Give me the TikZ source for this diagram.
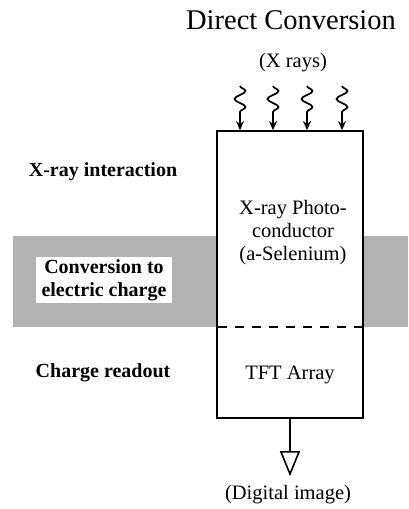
\documentclass[tikz,border=0pt]{standalone}
\usepackage{fontspec}
\setmainfont{Liberation Serif}
\usetikzlibrary{arrows.meta,decorations.pathmorphing}

\begin{document}
\begin{tikzpicture}[
    x=1pt,y=-1pt,
    stage/.style={font=\bfseries\fontsize{20}{23}\selectfont,align=center},
    layer/.style={font=\fontsize{20.5}{23}\selectfont,align=center},
    ray/.style={-{Stealth[length=9pt,width=8pt]},line width=1.7pt,decorate,
      decoration={snake,amplitude=5.5pt,segment length=16pt,post length=12pt}},
    readout/.style={-{Triangle[open,length=25pt,width=20pt,line width=1.6pt]},line width=1.6pt}
  ]
    \useasboundingbox (0,0) rectangle (408,509);

    % grey band for the conversion stage
    \node[fill=black!30,inner sep=0pt,minimum width=395pt,minimum height=91pt,
      anchor=north west] (band) at (13,236) {};
    \node[draw,line width=1.8pt,fill=white,inner sep=0pt,
      minimum width=146pt,minimum height=287pt] (detector) at (290,274.5) {};
    \draw[line width=2pt,dash pattern=on 9pt off 8pt]
      (band.south -| detector.west) ++(2,0) -- (band.south -| detector.east);

    \node[font=\fontsize{28.5}{32}\selectfont] (title) at (291,20) {Direct Conversion};
    \node[layer] (xrays) at (293,63) {(X rays)};
    \node[layer] (photo) at (293,233) {X-ray Photo-\\conductor\\(a-Selenium)};
    \node[layer] (tft) at (290,375) {TFT Array};
    \node[layer] (digital) at (288,495) {(Digital image)};

    \node[stage] (interaction) at (103,172) {X-ray interaction};
    \node[stage,fill=white,inner xsep=6pt,inner ysep=2pt] (conversion) at (104,280)
      {Conversion to\\electric charge};
    \node[stage] (charge) at (103,373) {Charge readout};

    \foreach \xr [count=\i] in {240,273,307,342} {
      \coordinate (ray\i) at (\xr,86);
      \draw[ray] (ray\i) -- (ray\i |- detector.north);
    }
    \draw[readout,shorten >=6pt] (detector.south) -- (detector.south |- digital.north);
  \end{tikzpicture}
\end{document}
